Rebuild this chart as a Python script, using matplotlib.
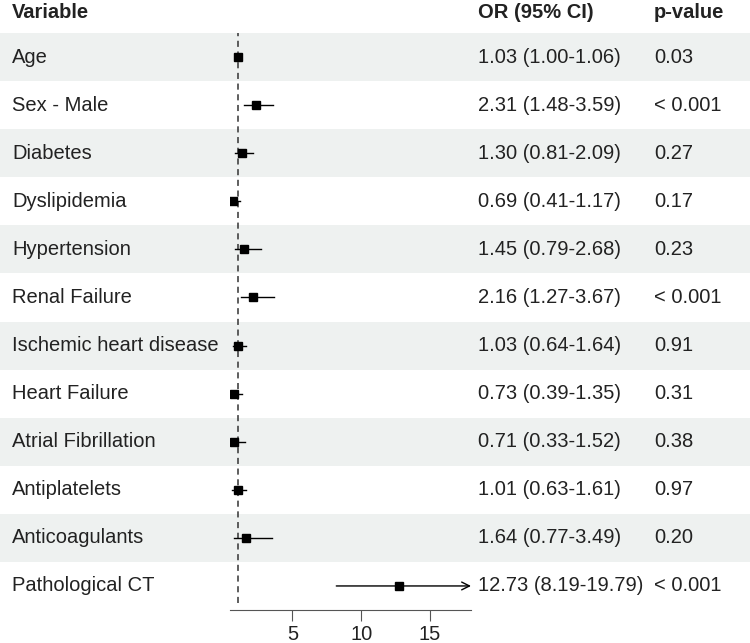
import numpy as np
import matplotlib
matplotlib.use('Agg')
import matplotlib.pyplot as plt

plt.rcParams['font.family'] = ['Liberation Sans', 'DejaVu Sans']

# Data
variables = ['Age', 'Sex - Male', 'Diabetes', 'Dyslipidemia', 'Hypertension',
             'Renal Failure', 'Ischemic heart disease', 'Heart Failure',
             'Atrial Fibrillation', 'Antiplatelets', 'Anticoagulants', 'Pathological CT']
odds = [1.03, 2.31, 1.30, 0.69, 1.45, 2.16, 1.03, 0.73, 0.71, 1.01, 1.64, 12.73]
ci_low = [1.00, 1.48, 0.81, 0.41, 0.79, 1.27, 0.64, 0.39, 0.33, 0.63, 0.77, 8.19]
ci_high = [1.06, 3.59, 2.09, 1.17, 2.68, 3.67, 1.64, 1.35, 1.52, 1.61, 3.49, 19.79]
pvals = ['0.03', '< 0.001', '0.27', '0.17', '0.23', '< 0.001', '0.91', '0.31',
         '0.38', '0.97', '0.20', '< 0.001']
xticks = [5, 10, 15]
x_min, x_max = 0.45, 18.0

W, H = 750, 643
fig = plt.figure(figsize=(W / 100, H / 100), dpi=100)

n = len(variables)
top_px, bot_px = 33, 610
bottom = (H - bot_px) / H
height = (bot_px - top_px) / H
ylim = (-0.5, n - 0.5)
ypos = np.arange(n)[::-1]
fs = 14.5

# background: bands and text columns
bg = fig.add_axes([0, bottom, 1, height], zorder=0)
bg.set_xlim(0, W)
bg.set_ylim(*ylim)
bg.axis('off')
txt = dict(fontsize=fs, color='#222222', va='center')
for i, y in enumerate(ypos):
    if i % 2 == 0:
        bg.axhspan(y - 0.5, y + 0.5, color='#eef1f0', lw=0)
    bg.text(12, y, variables[i], **txt)
    bg.text(478, y, f'{odds[i]:.2f} ({ci_low[i]:.2f}-{ci_high[i]:.2f})', **txt)
    bg.text(654, y, pvals[i], **txt)
hy = n - 0.5 + 21 / 48.1
for x, s in [(12, 'Variable'), (478, 'OR (95% CI)'), (654, 'p-value')]:
    bg.text(x, hy, s, fontweight='bold', clip_on=False, **txt)

# forest plot
ax = fig.add_axes([230 / W, bottom, (471 - 230) / W, height], zorder=1)
ax.patch.set_alpha(0)
ax.set_xlim(x_min, x_max)
ax.set_ylim(*ylim)
ax.plot([1, 1], [ylim[0] + 0.15, ylim[1]], ls=(0, (4, 3)), color='#333333', lw=1.1)
for i, y in enumerate(ypos):
    hi = ci_high[i]
    if hi > x_max:
        ax.annotate('', xy=(x_max, y), xytext=(ci_low[i], y),
                    arrowprops=dict(arrowstyle='->', color='black', lw=1,
                                    mutation_scale=14, shrinkA=0, shrinkB=0))
    else:
        ax.plot([ci_low[i], hi], [y, y], color='black', lw=1)
    ax.plot(odds[i], y, 's', color='black', markersize=5.5)

for s in ['top', 'right', 'left']:
    ax.spines[s].set_visible(False)
ax.spines['bottom'].set_color('#555555')
ax.set_yticks([])
ax.set_xticks(xticks)
ax.tick_params(axis='x', colors='#555555', length=8, labelsize=fs, labelcolor='#222222', pad=3)

plt.savefig('out.png', dpi=100)
